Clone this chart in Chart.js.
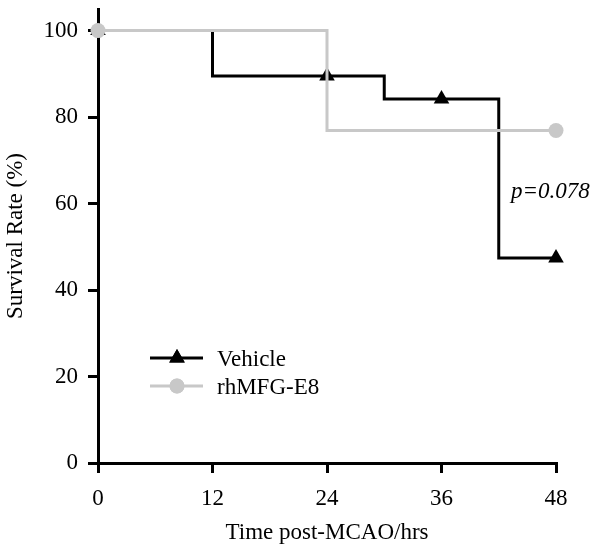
<!DOCTYPE html>
<html>
<head>
<meta charset="utf-8">
<script src="https://cdn.jsdelivr.net/npm/chart.js@4"></script>
<style>
  body { margin: 0; background: #fff; }
  #wrap { width: 601px; height: 553px; }
</style>
</head>
<body>
<div id="wrap"><canvas id="chart" width="601" height="553"></canvas></div>
<script>
// ===== DATA =====
const xTicks = [0, 12, 24, 36, 48];
const yTicks = [0, 20, 40, 60, 80, 100];

const vehicleTimes = [0, 12, 24, 30, 36, 42, 48];
const vehicleSurvival = [100, 89.5, 89.5, 84.2, 84.2, 47.4, 47.4];
const vehicleMarked = [true, false, true, false, true, false, true];

const rhTimes = [0, 24, 48];
const rhSurvival = [100, 76.9, 76.9];
const rhMarked = [true, false, true];

const pLabel = 'p=0.078';

// ===== STYLE =====
const FONT = '"Liberation Serif", "Times New Roman", serif';
const FSIZE = 23;
const GREY = '#c8c8c8';

function toPoints(xs, ys) {
  return xs.map((x, i) => ({ x: x, y: ys[i] }));
}

// legend + p value, drawn inside the plot
const extras = {
  id: 'extras',
  afterDraw(chart) {
    const ctx = chart.ctx;
    const items = [
      { label: 'Vehicle', color: '#000', style: 'triangle', r: 9, y: 358, base: 366 },
      { label: 'rhMFG-E8', color: GREY, style: 'circle', r: 7.5, y: 386, base: 394 }
    ];
    ctx.save();
    items.forEach(it => {
      ctx.strokeStyle = it.color;
      ctx.lineWidth = 3;
      ctx.beginPath();
      ctx.moveTo(150, it.y);
      ctx.lineTo(203, it.y);
      ctx.stroke();
      ctx.fillStyle = it.color;
      Chart.helpers.drawPoint(ctx, { pointStyle: it.style, radius: it.r, borderWidth: 0 }, 177, it.y);
      ctx.fill();
      ctx.fillStyle = '#000';
      ctx.font = FSIZE + 'px ' + FONT;
      ctx.textBaseline = 'alphabetic';
      ctx.textAlign = 'left';
      ctx.fillText(it.label, 217, it.base);
    });
    ctx.font = 'italic ' + FSIZE + 'px ' + FONT;
    ctx.fillText(pLabel, 511, 198);
    ctx.restore();
  }
};

const axisCommon = {
  type: 'linear',
  border: { display: true, color: '#000', width: 3 },
  grid: { drawOnChartArea: false, drawTicks: true, tickLength: 10, color: '#000', lineWidth: 3 },
  ticks: { color: '#000', font: { family: FONT, size: FSIZE } }
};

new Chart(document.getElementById('chart'), {
  type: 'line',
  data: {
    datasets: [
      {
        label: 'rhMFG-E8',
        data: toPoints(rhTimes, rhSurvival),
        stepped: 'before',
        borderColor: GREY,
        backgroundColor: GREY,
        borderWidth: 3,
        pointStyle: 'circle',
        pointRadius: rhMarked.map(m => m ? 7.5 : 0),
        pointBorderWidth: 0,
        clip: false
      },
      {
        label: 'Vehicle',
        data: toPoints(vehicleTimes, vehicleSurvival),
        stepped: 'before',
        borderColor: '#000',
        backgroundColor: '#000',
        borderWidth: 3,
        pointStyle: 'triangle',
        pointRadius: vehicleMarked.map(m => m ? 9 : 0),
        pointBorderWidth: 0,
        clip: false
      }
    ]
  },
  options: {
    responsive: false,
    animation: false,
    events: [],
    layout: { padding: { top: 7, right: 45, left: 0, bottom: 2 } },
    plugins: { legend: { display: false }, tooltip: { enabled: false } },
    scales: {
      x: {
        ...axisCommon,
        min: 0,
        max: 48,
        afterBuildTicks: s => { s.ticks = xTicks.map(v => ({ value: v })); },
        afterFit: s => { s.height = 88; s.paddingLeft = 0; s.paddingRight = 0; },
        ticks: { ...axisCommon.ticks, padding: 12, maxRotation: 0 },
        title: { display: true, text: 'Time post-MCAO/hrs', color: '#000', font: { family: FONT, size: FSIZE }, padding: { top: 4, bottom: 4 } }
      },
      y: {
        ...axisCommon,
        min: 0,
        max: 105,
        afterBuildTicks: s => { s.ticks = yTicks.map(v => ({ value: v })); },
        afterFit: s => { s.width = 98; s.paddingTop = 0; s.paddingBottom = 0; },
        ticks: { ...axisCommon.ticks, padding: 10 },
        title: { display: true, text: 'Survival Rate (%)', color: '#000', font: { family: FONT, size: FSIZE }, padding: { top: 2, bottom: 2 } }
      }
    }
  },
  plugins: [extras]
});
</script>
</body>
</html>
